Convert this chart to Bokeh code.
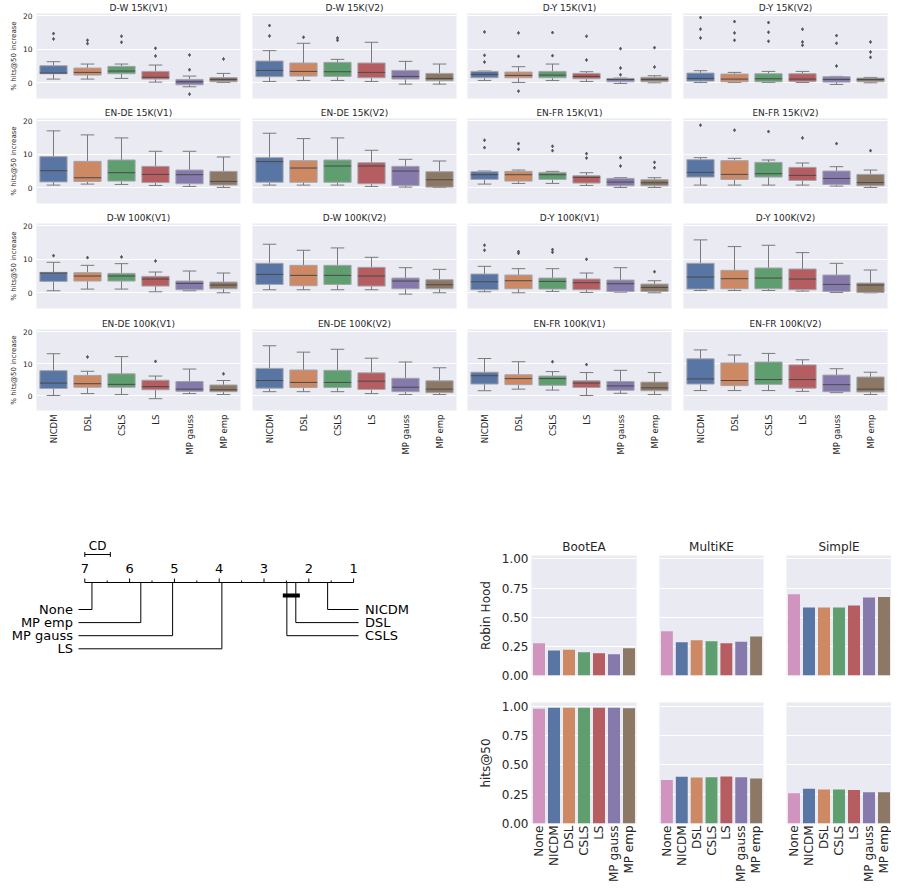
import math
from bokeh.plotting import figure
from bokeh.models import Range1d, FixedTicker, ColumnDataSource, Spacer, PrintfTickFormatter
from bokeh.layouts import row, column
from bokeh.transform import dodge
from bokeh.core.properties import value
from bokeh.embed import file_html
from bokeh.resources import INLINE

FONT = "DejaVu Sans"
BG = "#EAEAF2"
TXT = "#262626"

# ---------------- box plot data ----------------
methods = ["NICDM", "DSL", "CSLS", "LS", "MP gauss", "MP emp"]
box_colors = ["#5975a4", "#cc8963", "#5f9e6e", "#b55d60", "#857aab", "#8d7866"]

panel_titles = ["D-W 15K(V1)", "D-W 15K(V2)", "D-Y 15K(V1)", "D-Y 15K(V2)",
                "EN-DE 15K(V1)", "EN-DE 15K(V2)", "EN-FR 15K(V1)", "EN-FR 15K(V2)",
                "D-W 100K(V1)", "D-W 100K(V2)", "D-Y 100K(V1)", "D-Y 100K(V2)",
                "EN-DE 100K(V1)", "EN-DE 100K(V2)", "EN-FR 100K(V1)", "EN-FR 100K(V2)"]

whisk_lo = [
    [1.1, 1.1, 1.3, 0.2, -1.2, 0.1],
    [0.4, 0.7, 0.7, 0.4, -0.4, -0.4],
    [0.7, 0.1, 0.7, 0.4, -0.2, 0.0],
    [0.1, 0.1, 0.1, 0.1, -0.5, 0.0],
    [0.8, 1.1, 1.0, 0.7, 0.4, 0.1],
    [0.8, 0.8, 0.8, 0.4, 0.2, 0.1],
    [1.1, 1.3, 1.3, 0.7, 0.1, 0.1],
    [0.8, 0.8, 0.8, 0.8, 0.5, 0.1],
    [0.6, 1.1, 1.1, 0.3, 0.6, 0.0],
    [0.9, 0.9, 0.9, 0.9, -0.4, 0.0],
    [0.3, 0.0, 0.4, 0.1, 0.2, 0.0],
    [0.7, 0.7, 0.7, 0.5, 0.1, 0.0],
    [0.0, 0.6, 0.3, -1.0, 0.6, 0.3],
    [1.2, 1.2, 1.2, 0.6, 0.3, 0.3],
    [1.5, 2.0, 1.7, 0.0, 0.7, 0.3],
    [1.55, 1.55, 1.55, 1.3, 0.9, 0.3],
]
q1 = [
    [2.7, 2.3, 2.7, 1.1, -0.6, 0.3],
    [1.8, 2.0, 1.9, 1.5, 1.1, 0.6],
    [1.5, 1.5, 1.5, 1.2, 0.3, 0.3],
    [0.5, 0.3, 0.3, 0.4, 0.2, 0.3],
    [1.75, 1.9, 2.0, 1.55, 1.2, 0.8],
    [1.65, 1.65, 1.65, 1.2, 0.7, 0.2],
    [2.5, 2.0, 2.5, 1.4, 0.6, 0.6],
    [3.2, 2.5, 3.2, 2.2, 1.0, 0.6],
    [3.4, 3.5, 3.5, 2.0, 0.9, 1.2],
    [2.5, 2.1, 2.5, 2.0, 1.2, 1.2],
    [0.9, 1.2, 1.1, 0.9, 0.4, 0.4],
    [1.1, 1.2, 1.2, 0.9, 0.4, 0.1],
    [2.2, 2.6, 2.6, 1.8, 1.3, 1.2],
    [2.3, 2.5, 2.5, 1.9, 1.2, 0.9],
    [3.6, 3.4, 3.2, 2.5, 1.65, 1.5],
    [3.6, 3.1, 3.5, 2.3, 1.2, 1.1],
]
med = [
    [2.9, 3.1, 3.5, 1.65, 0.3, 1.0],
    [3.7, 3.4, 3.3, 3.1, 1.9, 1.3],
    [2.5, 2.2, 2.3, 1.9, 1.0, 1.0],
    [1.3, 1.1, 1.2, 1.1, 1.0, 1.0],
    [5.1, 3.0, 4.5, 4.0, 3.9, 1.9],
    [7.8, 5.9, 6.5, 6.5, 5.0, 2.4],
    [3.9, 3.9, 3.9, 3.1, 1.7, 1.5],
    [4.6, 4.0, 4.2, 3.7, 2.8, 1.55],
    [5.9, 5.0, 5.0, 4.1, 2.8, 2.3],
    [5.5, 5.2, 5.2, 5.0, 3.5, 2.4],
    [3.3, 3.6, 3.4, 3.0, 2.7, 1.6],
    [4.7, 4.2, 4.4, 4.1, 2.5, 2.3],
    [3.9, 3.7, 3.5, 2.8, 2.0, 1.8],
    [4.7, 4.1, 4.1, 4.5, 2.6, 2.0],
    [6.2, 5.3, 5.3, 3.9, 3.0, 2.4],
    [5.2, 4.7, 5.0, 5.0, 3.4, 2.0],
]
q3 = [
    [5.1, 4.4, 4.9, 3.4, 1.0, 1.55],
    [6.5, 5.9, 6.1, 5.9, 3.7, 2.8],
    [3.4, 3.2, 3.4, 2.8, 1.3, 1.65],
    [2.9, 2.6, 2.7, 2.7, 1.8, 1.4],
    [9.3, 7.9, 8.3, 6.4, 5.3, 4.9],
    [9.0, 8.1, 8.3, 7.5, 6.4, 4.8],
    [4.8, 4.9, 4.6, 3.6, 2.8, 2.4],
    [8.4, 8.1, 7.6, 6.1, 5.0, 4.0],
    [6.1, 6.0, 5.8, 4.9, 3.5, 3.2],
    [8.8, 8.2, 8.2, 7.6, 4.4, 3.9],
    [5.6, 5.3, 4.4, 4.1, 3.8, 2.6],
    [8.8, 6.7, 7.4, 7.1, 5.3, 2.9],
    [7.8, 6.3, 6.8, 4.8, 4.4, 3.3],
    [8.5, 8.0, 7.9, 7.1, 5.4, 4.6],
    [7.3, 6.5, 6.1, 4.6, 4.4, 4.2],
    [11.5, 10.2, 10.5, 9.6, 6.4, 5.8],
]
whisk_hi = [
    [6.3, 5.6, 5.6, 5.3, 2.0, 2.8],
    [9.6, 11.8, 7.0, 12.1, 6.4, 5.6],
    [3.5, 4.8, 5.6, 3.3, 1.4, 2.1],
    [3.6, 3.1, 3.4, 3.4, 1.9, 1.6],
    [17.0, 15.8, 14.9, 10.9, 10.9, 9.2],
    [16.3, 14.7, 14.9, 11.2, 8.5, 8.0],
    [5.0, 5.3, 4.9, 4.5, 3.0, 3.0],
    [9.0, 8.8, 8.3, 7.4, 6.3, 5.3],
    [9.1, 8.2, 8.7, 6.2, 6.5, 5.9],
    [14.5, 12.7, 13.4, 10.6, 7.5, 7.0],
    [7.9, 7.2, 7.2, 5.9, 7.5, 3.6],
    [15.8, 13.8, 14.2, 12.0, 8.8, 6.8],
    [13.1, 7.6, 12.2, 6.1, 8.3, 4.7],
    [15.6, 13.6, 14.5, 11.7, 10.5, 8.7],
    [11.6, 10.6, 7.5, 7.2, 7.9, 7.2],
    [14.3, 12.7, 13.2, 11.2, 8.4, 7.3],
]
outliers = [
    [[14.7, 13.1], [12.7, 11.7], [13.9, 12.1], [10.3, 8.0], [8.3, 3.9, -3.4], [7.1]],
    [[17.1, 14.0], [13.6], [13.4, 12.7], [], [], []],
    [[15.2, 8.2, 6.2], [14.9, 7.9, -2.5], [15.0, 8.1], [13.9, 6.8], [10.2, 4.4, 2.4], [10.5, 4.7]],
    [[19.5, 16.0, 13.4], [18.3, 14.9, 12.7], [18.0, 15.1, 12.4], [16.0, 12.2, 11.2], [14.1, 11.8, 5.0], [12.2, 9.2, 7.6]],
    [[], [], [], [], [], []],
    [[], [], [], [], [], []],
    [[14.2, 12.0], [13.2, 11.5], [12.4, 11.1], [10.2, 8.9], [9.0, 6.5], [7.6, 6.0]],
    [[18.7], [17.2], [16.8], [14.9], [13.2], [11.1]],
    [[11.1], [10.5], [10.7], [9.5], [], []],
    [[], [], [], [], [], []],
    [[14.2, 12.7], [12.3, 11.8], [12.9, 12.1], [10.0], [], [6.3]],
    [[], [], [], [], [], []],
    [[], [12.1], [], [10.7], [], [6.8]],
    [[], [], [], [], [], []],
    [[], [], [10.6], [9.7], [], []],
    [[], [], [], [], [], []],
]
box_yticks = [0, 10, 20]

# ---------------- bar chart data ----------------
bar_methods = ["None", "NICDM", "DSL", "CSLS", "LS", "MP gauss", "MP emp"]
bar_colors = ["#d095bf", "#5975a4", "#cc8963", "#5f9e6e", "#b55d60", "#857aab", "#8d7866"]
models = ["BootEA", "MultiKE", "SimplE"]
robin_hood_bootea = [0.277, 0.214, 0.220, 0.200, 0.190, 0.183, 0.234]
robin_hood_multike = [0.380, 0.286, 0.303, 0.294, 0.277, 0.289, 0.334]
robin_hood_simple = [0.697, 0.583, 0.583, 0.583, 0.600, 0.669, 0.674]
hits_bootea = [0.977, 0.986, 0.986, 0.986, 0.986, 0.986, 0.980]
hits_multike = [0.371, 0.397, 0.391, 0.394, 0.400, 0.394, 0.382]
hits_simple = [0.258, 0.295, 0.289, 0.289, 0.286, 0.266, 0.266]
bar_yticks = [0.0, 0.25, 0.5, 0.75, 1.0]

# ---------------- critical difference data ----------------
cd_names = ["None", "MP emp", "MP gauss", "LS", "CSLS", "DSL", "NICDM"]
cd_ranks = [6.84, 5.75, 5.04, 3.94, 2.49, 2.29, 1.58]
cd_value = 0.57
cd_clique = ["CSLS", "DSL"]


def style_common(p):
    p.background_fill_color = BG
    p.border_fill_color = "white"
    p.outline_line_color = None
    p.xgrid.visible = False
    p.ygrid.grid_line_color = "white"
    p.ygrid.grid_line_width = 1
    for ax in p.axis:
        ax.axis_line_color = None
        ax.major_tick_line_color = None
        ax.minor_tick_line_color = None
        ax.major_tick_out = 0
        ax.major_tick_in = 0
        ax.minor_tick_out = 0
        ax.minor_tick_in = 0
        ax.major_label_text_font = FONT
        ax.major_label_text_color = TXT
        ax.axis_label_text_font = FONT
        ax.axis_label_text_color = TXT
        ax.axis_label_text_font_style = "normal"
    if p.title is not None:
        p.title.align = "center"
        p.title.text_font = FONT
        p.title.text_font_style = "normal"
        p.title.text_color = TXT


# box grid geometry: (width, border_left, border_right)
box_cols = [(244, 36, 4), (216, 8, 4), (215, 7, 4), (216, 8, 4)]


def box_panel(i):
    r, c = divmod(i, 4)
    w, bl, br = box_cols[c]
    if r < 3:
        h, bt, bb = 105, 13, 7
    else:
        h, bt, bb = 142, 14, 43
    p = figure(x_range=methods, y_range=Range1d(-4.7, 20.7), width=w, height=h,
               title=panel_titles[i], output_backend="svg", toolbar_location=None,
               min_border_left=bl, min_border_right=br, min_border_top=bt, min_border_bottom=bb)
    style_common(p)
    p.title.text_font_size = "9px"
    p.title.standoff = 1
    p.yaxis.ticker = FixedTicker(ticks=box_yticks)
    p.ygrid.ticker = FixedTicker(ticks=box_yticks)
    if c == 0:
        p.yaxis.axis_label = "% hits@50 increase"
        p.yaxis.axis_label_text_font_size = "7px"
        p.yaxis.major_label_text_font_size = "7.5px"
        p.yaxis.major_label_standoff = 4
        p.yaxis.axis_label_standoff = 2
    else:
        p.yaxis.visible = False
    if r == 3:
        p.xaxis.major_label_orientation = math.pi / 2
        p.xaxis.major_label_text_font_size = "8.5px"
        p.xaxis.major_label_standoff = 4
    else:
        p.xaxis.visible = False

    src = ColumnDataSource(dict(x=methods, lo=whisk_lo[i], q1=q1[i], med=med[i],
                                q3=q3[i], hi=whisk_hi[i], color=box_colors))
    wc = "#7a7a7a"
    p.segment(x0="x", y0="q3", x1="x", y1="hi", source=src, line_color=wc, line_width=1)
    p.segment(x0="x", y0="lo", x1="x", y1="q1", source=src, line_color=wc, line_width=1)
    p.segment(x0=dodge("x", -0.2, range=p.x_range), y0="hi",
              x1=dodge("x", 0.2, range=p.x_range), y1="hi", source=src, line_color=wc, line_width=1)
    p.segment(x0=dodge("x", -0.2, range=p.x_range), y0="lo",
              x1=dodge("x", 0.2, range=p.x_range), y1="lo", source=src, line_color=wc, line_width=1)
    p.vbar(x="x", bottom="q1", top="q3", width=0.8, source=src, fill_color="color",
           line_color="#a4a4ac", line_width=1)
    p.segment(x0=dodge("x", -0.4, range=p.x_range), y0="med",
              x1=dodge("x", 0.4, range=p.x_range), y1="med", source=src,
              line_color="#4a4a4a", line_width=1)
    ox = [m for m, vals in zip(methods, outliers[i]) for v in vals]
    oy = [v for m, vals in zip(methods, outliers[i]) for v in vals]
    p.scatter(x=ox, y=oy, marker="diamond", size=3, color="#555555")
    return p


box_figs = [box_panel(i) for i in range(16)]
top = column(*[row(*box_figs[r * 4:(r + 1) * 4], spacing=0) for r in range(4)], spacing=0)

# ---------------- bar grid ----------------
bar_cols = [(182, 66, 11), (127, 12, 11), (117, 12, 0)]
bar_values = [[robin_hood_bootea, robin_hood_multike, robin_hood_simple],
              [hits_bootea, hits_multike, hits_simple]]
row_labels = ["Robin Hood", "hits@50"]


def bar_panel(r, c):
    w, bl, br = bar_cols[c]
    if r == 0:
        h, bt, bb = 157, 30, 7
    else:
        h, bt, bb = 204, 20, 63
    kw = dict(title=models[c]) if r == 0 else {}
    p = figure(x_range=bar_methods, y_range=Range1d(0, 1.03), width=w, height=h,
               output_backend="svg", toolbar_location=None, min_border_left=bl,
               min_border_right=br, min_border_top=bt, min_border_bottom=bb, **kw)
    style_common(p)
    if r == 0:
        p.title.text_font_size = "12px"
        p.title.standoff = 3
    p.yaxis.ticker = FixedTicker(ticks=bar_yticks)
    p.ygrid.ticker = FixedTicker(ticks=bar_yticks)
    if c == 0:
        p.yaxis.formatter = PrintfTickFormatter(format="%.2f")
        p.yaxis.axis_label = row_labels[r]
        p.yaxis.axis_label_text_font_size = "12px"
        p.yaxis.major_label_text_font_size = "12px"
        p.yaxis.major_label_standoff = 3
        p.yaxis.axis_label_standoff = 6
    else:
        p.yaxis.visible = False
    if r == 1:
        p.xaxis.major_label_orientation = math.pi / 2
        p.xaxis.major_label_text_font_size = "12px"
        p.xaxis.major_label_standoff = 2
    else:
        p.xaxis.visible = False
    src = ColumnDataSource(dict(x=bar_methods, top=bar_values[r][c], color=bar_colors))
    p.vbar(x="x", top="top", width=0.8, source=src, fill_color="color", line_color=None)
    return p


bar_grid = column(row(*[bar_panel(0, c) for c in range(3)], spacing=0),
                  row(*[bar_panel(1, c) for c in range(3)], spacing=0), spacing=0)

# ---------------- critical difference diagram ----------------
n = len(cd_names)
px_per_rank = 44.8
rank_left_px = 84.3
cd_w, cd_h = 465, 361
cd = figure(width=cd_w, height=cd_h,
            x_range=Range1d(n + rank_left_px / px_per_rank, n - (cd_w - rank_left_px) / px_per_rank),
            y_range=Range1d(cd_h, 0), output_backend="svg", toolbar_location=None,
            min_border_left=0, min_border_right=0, min_border_top=0, min_border_bottom=0,
            outline_line_color=None)
cd.axis.visible = False
cd.grid.visible = False

cline = 57
cd.segment(x0=[n], y0=[cline], x1=[1], y1=[cline], line_color="black", line_width=1)
tick_pos = [1 + k * 0.5 for k in range(2 * (n - 1) + 1)]
cd.segment(x0=tick_pos, x1=tick_pos, y0=[cline] * len(tick_pos),
           y1=[cline - (4 if float(t).is_integer() else 2) for t in tick_pos],
           line_color="black", line_width=1)
int_ticks = list(range(1, n + 1))
cd.text(x=int_ticks, y=[cline - 14] * n, text=[str(t) for t in int_ticks],
        text_align="center", text_baseline="middle", text_font=value(FONT),
        text_font_size="13px", text_color="black")
# CD bar
cd_y = 29
cd.segment(x0=[n], y0=[cd_y], x1=[n - cd_value], y1=[cd_y], line_color="black", line_width=1)
cd.segment(x0=[n, n - cd_value], y0=[cd_y - 2.5] * 2, x1=[n, n - cd_value], y1=[cd_y + 2.5] * 2,
           line_color="black", line_width=1)
cd.text(x=[n - cd_value / 2], y=[cd_y - 9], text=["CD"], text_align="center",
        text_baseline="middle", text_font=value(FONT), text_font_size="12px", text_color="black")

order = sorted(range(n), key=lambda k: -cd_ranks[k])
half = (n + 1) // 2
left_idx = order[:half]
right_idx = sorted(range(n), key=lambda k: cd_ranks[k])[:n - half]
row_y0, row_dy = 84, 13.1
left_end = n + 6.3 / px_per_rank
right_end = 1 - 5.0 / px_per_rank
lx, ly, rx, ry = [], [], [], []
for j, k in enumerate(left_idx):
    yy = row_y0 + j * row_dy
    lx.append([cd_ranks[k], cd_ranks[k], left_end])
    ly.append([cline, yy, yy])
for j, k in enumerate(right_idx):
    yy = row_y0 + j * row_dy
    rx.append([cd_ranks[k], cd_ranks[k], right_end])
    ry.append([cline, yy, yy])
cd.multi_line(xs=lx + rx, ys=ly + ry, line_color="black", line_width=1)
cd.text(x=[left_end + 5.5 / px_per_rank] * len(left_idx),
        y=[row_y0 + j * row_dy for j in range(len(left_idx))],
        text=[cd_names[k] for k in left_idx], text_align="right", text_baseline="middle",
        text_font=value(FONT), text_font_size="13px", text_color="black")
cd.text(x=[right_end - 6.5 / px_per_rank] * len(right_idx),
        y=[row_y0 + j * row_dy for j in range(len(right_idx))],
        text=[cd_names[k] for k in right_idx], text_align="left", text_baseline="middle",
        text_font=value(FONT), text_font_size="13px", text_color="black")
# clique bar
cl_ranks = [cd_ranks[cd_names.index(m)] for m in cd_clique]
cd.segment(x0=[max(cl_ranks) + 0.09], x1=[min(cl_ranks) - 0.09], y0=[70], y1=[70],
           line_color="black", line_width=4)

bottom = row(cd, bar_grid, spacing=0)
layout = column(top, Spacer(width=10, height=68), bottom, spacing=0)

open("out.html", "w").write(file_html(layout, INLINE))
